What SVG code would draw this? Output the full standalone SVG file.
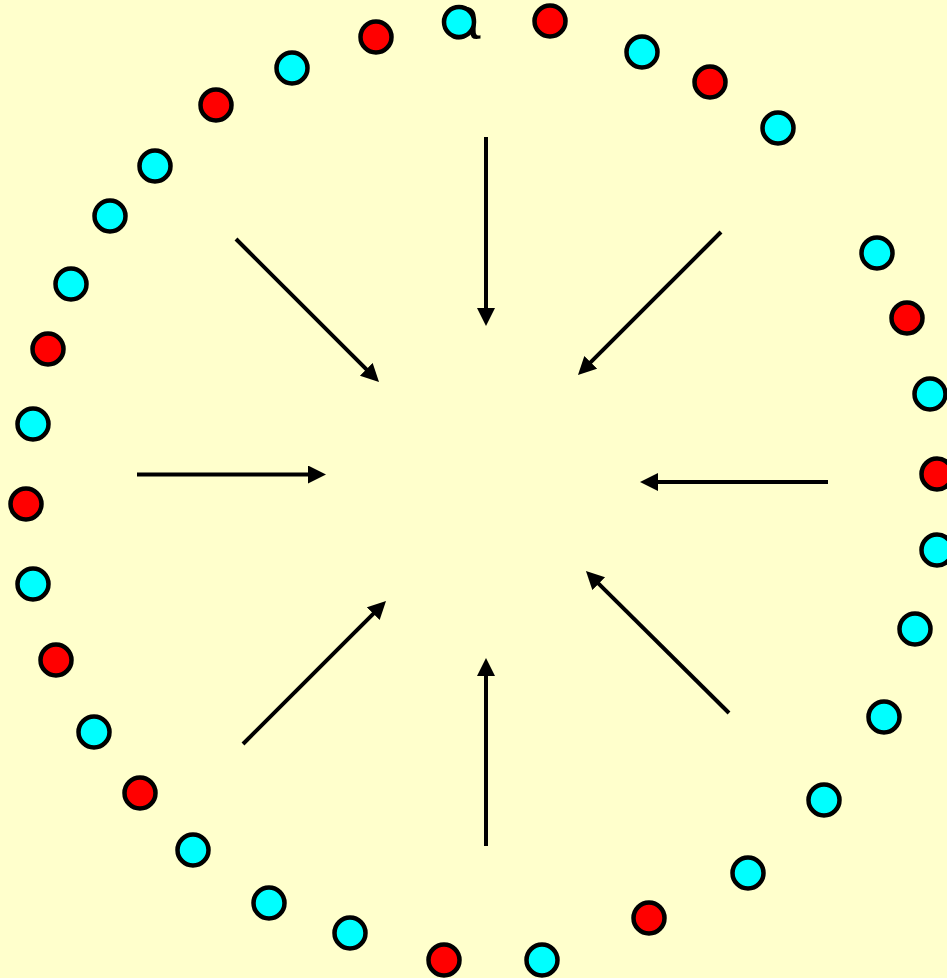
<svg xmlns="http://www.w3.org/2000/svg" width="947" height="978" viewBox="0 0 947 978">
<defs>
<style>
.c{fill:#00FFFF;stroke:#000;stroke-width:4.5}
.r{fill:#FF0000;stroke:#000;stroke-width:4.5}
.a{stroke:#000;stroke-width:4;fill:none;marker-end:url(#ah)}
.t{font-family:"Liberation Sans",Arial,sans-serif;font-size:62px;fill:#000}
</style>
<marker id="ah" markerUnits="userSpaceOnUse" markerWidth="20" markerHeight="20" refX="2" refY="9" orient="auto">
<path d="M0,0 L18,9 L0,18 z" fill="#000"/>
</marker>
</defs>
<rect width="947" height="978" fill="#FFFFCC"/>
<text class="t" x="446" y="39">a</text>
<g id="connectors">
<line class="a" x1="486" y1="137" x2="486" y2="310"/>
<line class="a" x1="236" y1="239" x2="367.7" y2="370.7"/>
<line class="a" x1="721" y1="232" x2="589.3" y2="363.7"/>
<line class="a" x1="137" y1="474.5" x2="310" y2="474.5"/>
<line class="a" x1="828" y1="482" x2="656" y2="482"/>
<line class="a" x1="243" y1="744" x2="374.7" y2="612.3"/>
<line class="a" x1="486" y1="846" x2="486" y2="674"/>
<line class="a" x1="729" y1="713" x2="597.3" y2="582.3"/>
</g>
<g id="dots">
<g id="n1"><circle class="c" cx="459" cy="22" r="15"/></g>
<g id="n2"><circle class="r" cx="550" cy="21" r="15.5"/></g>
<g id="n3"><circle class="r" cx="376" cy="37" r="15.5"/></g>
<g id="n4"><circle class="c" cx="642" cy="52" r="15.5"/></g>
<g id="n5"><circle class="c" cx="292" cy="68" r="15.5"/></g>
<g id="n6"><circle class="r" cx="710" cy="82" r="15.5"/></g>
<g id="n7"><circle class="r" cx="216" cy="105" r="15.5"/></g>
<g id="n8"><circle class="c" cx="778" cy="128" r="15.5"/></g>
<g id="n9"><circle class="c" cx="155" cy="166" r="15.5"/></g>
<g id="n10"><circle class="c" cx="110" cy="216" r="15.5"/></g>
<g id="n11"><circle class="c" cx="71" cy="284" r="15.5"/></g>
<g id="n12"><circle class="r" cx="48" cy="349" r="15.5"/></g>
<g id="n13"><circle class="c" cx="33" cy="424" r="15.5"/></g>
<g id="n14"><circle class="r" cx="26" cy="504" r="15.5"/></g>
<g id="n15"><circle class="c" cx="33" cy="584" r="15.5"/></g>
<g id="n16"><circle class="r" cx="56" cy="660" r="15.5"/></g>
<g id="n17"><circle class="c" cx="94" cy="732" r="15.5"/></g>
<g id="n18"><circle class="r" cx="140" cy="793" r="15.5"/></g>
<g id="n19"><circle class="c" cx="193" cy="850" r="15.5"/></g>
<g id="n20"><circle class="c" cx="269" cy="903" r="15.5"/></g>
<g id="n21"><circle class="c" cx="350" cy="933" r="15.5"/></g>
<g id="n22"><circle class="r" cx="444" cy="960" r="15.5"/></g>
<g id="n23"><circle class="c" cx="542" cy="960" r="15.5"/></g>
<g id="n24"><circle class="r" cx="649" cy="918" r="15.5"/></g>
<g id="n25"><circle class="c" cx="748" cy="873" r="15.5"/></g>
<g id="n26"><circle class="c" cx="824" cy="800" r="15.5"/></g>
<g id="n27"><circle class="c" cx="884" cy="717" r="15.5"/></g>
<g id="n28"><circle class="c" cx="915" cy="629" r="15.5"/></g>
<g id="n29"><circle class="c" cx="937" cy="550" r="15.5"/></g>
<g id="n30"><circle class="r" cx="937" cy="474" r="15.5"/></g>
<g id="n31"><circle class="c" cx="930" cy="394" r="15.5"/></g>
<g id="n32"><circle class="r" cx="907" cy="318" r="15.5"/></g>
<g id="n33"><circle class="c" cx="877" cy="253" r="15.5"/></g>
</g>
</svg>
